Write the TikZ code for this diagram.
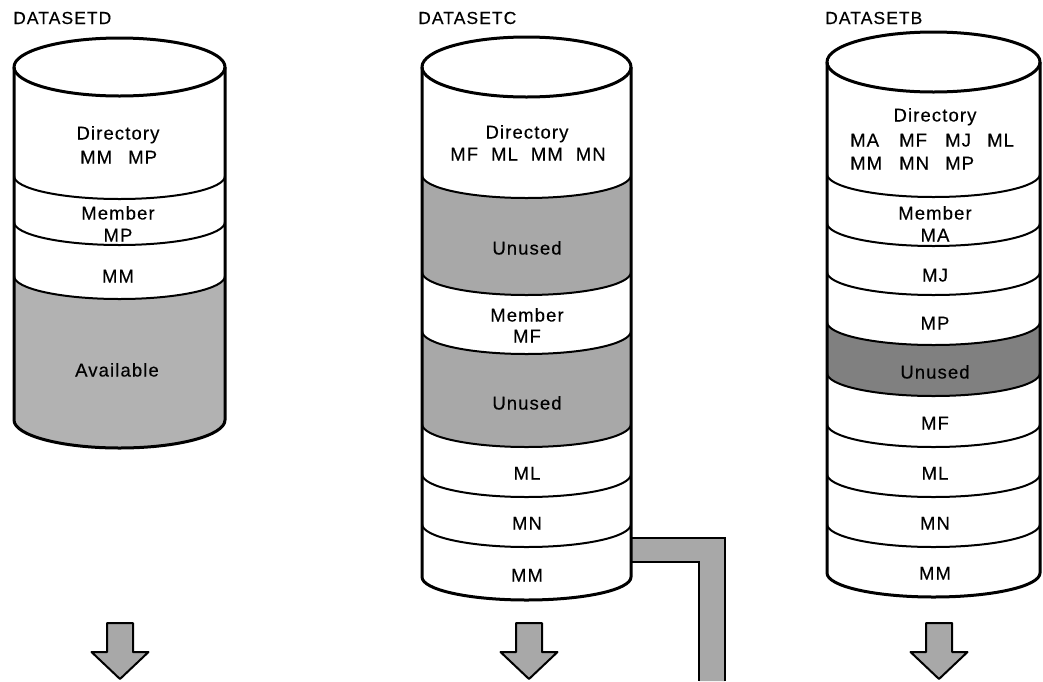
\documentclass[tikz,border=0pt]{standalone}
\usepackage{fontspec}
\setmainfont{Liberation Sans}[LetterSpace=6,FakeBold=0.3]
\newcommand\sepline[4]{% L, y(side), rx, depth
  \draw[sep] (#1,-#2) arc[start angle=180,end angle=360,x radius=#3pt,y radius=#4pt];}
\newcommand\greyband[7]{% L, R, ya, da, yb, db, style
  \fill[#7] (#1,-#3) arc[start angle=180,end angle=360,x radius={(#2-#1)/2*1pt},y radius=#4pt]
    -- (#2,-#5) arc[start angle=0,end angle=-180,x radius={(#2-#1)/2*1pt},y radius=#6pt] -- cycle;}
\newcommand\blockdown[1]{% centre x
  \draw[blockarrow] ({#1-13},-623) -- ({#1+13},-623) -- ({#1+13},-652) -- ({#1+28.5},-652)
    -- (#1,-679) -- ({#1-28.5},-652) -- ({#1-13},-652) -- cycle;}
\tikzset{
  outline/.style={line width=3pt, line join=round},
  sep/.style={line width=2pt},
  greyD/.style={fill=black!30},
  greyC/.style={fill=black!34},
  greyB/.style={fill=black!50},
  blockarrow/.style={fill=black!34, draw, line width=2pt, line join=round},
  txt/.style={font=\fontsize{18.5}{22}\selectfont, inner sep=0pt, anchor=base},
  ttl/.style={font=\fontsize{17.5}{20}\selectfont, inner sep=0pt, anchor=base west},
}
\begin{document}
\begin{tikzpicture}[x=1pt,y=1pt]
\useasboundingbox (0,0) rectangle (1043,-681);
\fill[white] (0,0) rectangle (1043,-681);

% ================= DATASETD =================
\greyband{14}{225}{276}{23}{420}{28}{greyD}
\foreach \yy in {176,222,276} {\sepline{14}{\yy}{105.5}{23}}
\draw[outline] (14,-67) -- (14,-420) arc[start angle=180,end angle=360,x radius=105.5pt,y radius=28pt] -- (225,-67);
\draw[outline] (119.5,-67) ellipse[x radius=105.5pt,y radius=29pt];
\node[ttl] (dtitle) at (13,-24) {DATASETD};
\node[txt] (ddir) at (118,-139.5) {Directory};
\node[txt, anchor=base west] (ddir2) at (80,-163.5) {\makebox[48pt][l]{MM}MP};
\node[txt] (dmem) at (118,-219.5) {Member};
\node[txt] (dmp) at (118,-241.5) {MP};
\node[txt] (dmm) at (118,-282.5) {MM};
\node[txt] (davail) at (117,-376.5) {Available};
\blockdown{120}

% ================= pipe =================
\fill[black!34] (631,-538) -- (725,-538) -- (725,-681) -- (699,-681) -- (699,-562) -- (631,-562) -- cycle;
\draw[line width=2.5pt, line join=miter] (631,-538) -- (724.75,-538) -- (724.75,-681);
\draw[line width=2.5pt, line join=miter] (631,-562) -- (699,-562) -- (699,-681);

% ================= DATASETC =================
\greyband{422}{631}{175}{23}{272}{23}{greyC}
\greyband{422}{631}{331}{23}{424}{23}{greyC}
\foreach \yy in {175,272,331,424,474,524} {\sepline{422}{\yy}{104.5}{23}}
\draw[outline] (422,-67) -- (422,-577) arc[start angle=180,end angle=360,x radius=104.5pt,y radius=23pt] -- (631,-67);
\draw[outline] (526.5,-67) ellipse[x radius=104.5pt,y radius=30pt];
\node[ttl] (ctitle) at (418,-24) {DATASETC};
\node[txt] (cdir) at (527,-138.5) {Directory};
\node[txt] (cdir2) at (528,-160.5) {MF\hspace{13pt}ML\hspace{13pt}MM\hspace{13pt}MN};
\node[txt] (cun1) at (527,-254.5) {Unused};
\node[txt] (cmem) at (527,-321.5) {Member};
\node[txt] (cmf) at (527,-342.5) {MF};
\node[txt] (cun2) at (527,-409.5) {Unused};
\node[txt] (cml) at (527,-479.5) {ML};
\node[txt] (cmn) at (527,-529.5) {MN};
\node[txt] (cmm) at (527,-581.5) {MM};
\blockdown{529}

% ================= DATASETB =================
\greyband{827}{1040}{322}{23}{373}{23}{greyB}
\foreach \yy in {174,223,272,322,373,424,474,524} {\sepline{827}{\yy}{106.5}{23}}
\draw[outline] (827,-62) -- (827,-573) arc[start angle=180,end angle=360,x radius=106.5pt,y radius=24pt] -- (1040,-62);
\draw[outline] (933.5,-62) ellipse[x radius=106.5pt,y radius=30pt];
\node[ttl] (btitle) at (825,-24) {DATASETB};
\node[txt] (bdir) at (935,-121.5) {Directory};
\node[txt, anchor=base west] (bdir2) at (850,-146.5) {\makebox[49pt][l]{MA}\makebox[46pt][l]{MF}\makebox[42pt][l]{MJ}ML};
\node[txt, anchor=base west] (bdir3) at (850,-169.5) {\makebox[49pt][l]{MM}\makebox[46pt][l]{MN}MP};
\node[txt] (bmem) at (935,-219.5) {Member};
\node[txt] (bma) at (935,-241.5) {MA};
\node[txt] (bmj) at (935,-281.5) {MJ};
\node[txt] (bmp) at (935,-329.5) {MP};
\node[txt] (bun) at (935,-378.5) {Unused};
\node[txt] (bmf) at (935,-429.5) {MF};
\node[txt] (bml) at (935,-479.5) {ML};
\node[txt] (bmn) at (935,-529.5) {MN};
\node[txt] (bmm) at (935,-579.5) {MM};
\blockdown{939}
\end{tikzpicture}
\end{document}
